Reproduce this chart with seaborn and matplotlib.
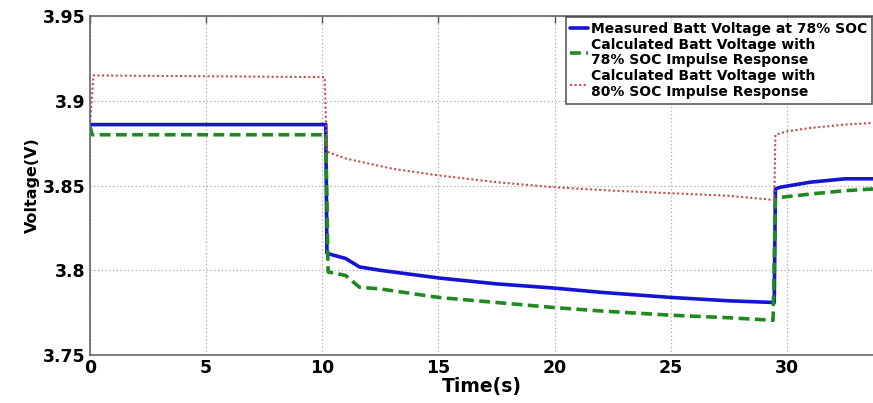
import matplotlib
matplotlib.use("Agg")
import matplotlib.pyplot as plt
import seaborn as sns
import pandas as pd

# Measured battery voltage at 78% SOC
t_meas = [0, 10.15, 10.2, 11.0, 11.6, 12.5, 15, 17.5, 20, 22, 25, 27.5, 29.45, 29.5, 29.7, 31, 32.5, 33.7]
v_meas = [3.886, 3.886, 3.810, 3.807, 3.802, 3.800, 3.7955, 3.792, 3.7895, 3.787, 3.784, 3.782, 3.781,
          3.848, 3.849, 3.852, 3.854, 3.854]

# Calculated with 78% SOC impulse response
t_c78 = [0, 0.1, 10.15, 10.25, 11.0, 11.6, 12.5, 15, 17.5, 20, 22, 25, 27.5, 29.4, 29.5, 29.7, 31, 32.5, 33.7]
v_c78 = [3.885, 3.880, 3.880, 3.799, 3.797, 3.790, 3.789, 3.784, 3.781, 3.778, 3.776, 3.7735, 3.772, 3.7705,
         3.842, 3.843, 3.845, 3.847, 3.848]

# Calculated with 80% SOC impulse response
t_c80 = [0, 0.15, 10.1, 10.2, 11, 12, 13, 15, 17.5, 20, 22.5, 25, 27.5, 29.45, 29.5, 30, 31, 32.5, 33.7]
v_c80 = [3.885, 3.915, 3.914, 3.870, 3.866, 3.863, 3.860, 3.856, 3.852, 3.849, 3.847, 3.8455, 3.844, 3.8415,
         3.880, 3.882, 3.884, 3.886, 3.887]

labels = ["Measured Batt Voltage at 78% SOC",
          "Calculated Batt Voltage with\n78% SOC Impulse Response",
          "Calculated Batt Voltage with\n80% SOC Impulse Response"]
x_ticks = [0, 5, 10, 15, 20, 25, 30]
y_ticks = [3.75, 3.8, 3.85, 3.9, 3.95]
y_ticklabels = ["3.75", "3.8", "3.85", "3.9", "3.95"]

sns.set_style("white")
plt.rcParams["font.family"] = ["DejaVu Sans"]
plt.rcParams["font.weight"] = "bold"
plt.rcParams["text.color"] = "black"
plt.rcParams["axes.labelcolor"] = "black"

fig = plt.figure(figsize=(8.73, 4.03), dpi=100)
ax = fig.add_axes([0.103, 0.119, 0.897, 0.841])

df1 = pd.DataFrame({"t": t_meas, "v": v_meas})
df2 = pd.DataFrame({"t": t_c78, "v": v_c78})
df3 = pd.DataFrame({"t": t_c80, "v": v_c80})

sns.lineplot(data=df1, x="t", y="v", ax=ax, color="#1414d2", lw=2.6, label=labels[0], sort=False)
sns.lineplot(data=df2, x="t", y="v", ax=ax, color="#1f8a1f", lw=2.6, linestyle=(0, (3, 1.5)),
             label=labels[1], sort=False)
sns.lineplot(data=df3, x="t", y="v", ax=ax, color="#c84a4a", lw=1.5, linestyle=(0, (1, 1.2)),
             label=labels[2], sort=False)

ax.set_xlim(0, 33.7)
ax.set_ylim(3.75, 3.95)
ax.set_xticks(x_ticks)
ax.set_yticks(y_ticks)
ax.set_yticklabels(y_ticklabels)
ax.tick_params(direction="in", length=5, width=1, labelsize=12.5, top=True, right=False, colors="#555555",
               labelcolor="black", pad=3)
for lab in ax.get_xticklabels() + ax.get_yticklabels():
    lab.set_fontweight("bold")
ax.grid(True, linestyle=(0, (1, 2)), color="#a8a8a8", lw=0.9)
for s in ["left", "bottom", "top"]:
    ax.spines[s].set_color("#666666")
    ax.spines[s].set_linewidth(1.2)
ax.spines["right"].set_visible(False)

ax.set_xlabel("Time(s)", fontsize=13.5, fontweight="bold", labelpad=0)
ax.set_ylabel("Voltage(V)", fontsize=11.5, fontweight="bold", labelpad=2)

leg = ax.legend(loc="upper right", fontsize=10, frameon=True, fancybox=False, borderaxespad=0.05,
                handlelength=1.3, handletextpad=0.2, labelspacing=0.15, borderpad=0.35)
leg.get_frame().set_edgecolor("#333333")
leg.get_frame().set_linewidth(1.2)
for txt in leg.get_texts():
    txt.set_fontweight("bold")
    txt.set_color("black")
    txt.set_linespacing(1.15)

fig.savefig("out.png", dpi=100)
